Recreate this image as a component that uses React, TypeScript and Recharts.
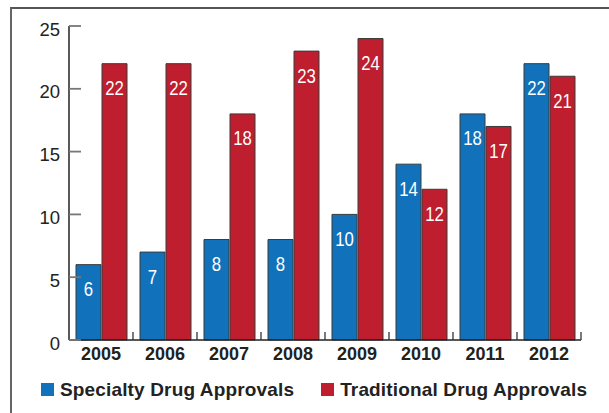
import React from "react";
import { BarChart, Bar, XAxis, YAxis, LabelList, Legend } from "recharts";

const years = ["2005", "2006", "2007", "2008", "2009", "2010", "2011", "2012"];
const specialty = [6, 7, 8, 8, 10, 14, 18, 22];
const traditional = [22, 22, 18, 23, 24, 12, 17, 21];
const yTicks = [0, 5, 10, 15, 20, 25];

const data = years.map((y, i) => ({ year: y, specialty: specialty[i], traditional: traditional[i] }));

const BLUE = "#1172bb";
const RED = "#be1e2d";
const FONT = "'Liberation Sans', Arial, Helvetica, sans-serif";

const YTick = (props: any) => {
  const { x, y, payload } = props;
  return (
    <g>
      <line x1={x + 9} x2={x + 21} y1={y} y2={y} stroke="#777" strokeWidth={1.8} />
      <text x={x} y={y} dy={9.5} textAnchor="end" fontSize={18.5} fill="#222" fontFamily={FONT}>
        {payload.value}
      </text>
    </g>
  );
};

const XTick = (props: any) => {
  const { x, y, payload, width, visibleTicksCount } = props;
  const bandHalf =
    payload && Number(payload.offset) > 0
      ? Number(payload.offset)
      : Number(width) / (Number(visibleTicksCount) || years.length) / 2;
  const axisY = Number(y) - 7;
  const bx = Number(x) + bandHalf;
  return (
    <g>
      <text x={x} y={y} dy={13} textAnchor="middle" fontSize={18} fontWeight="bold" fill="#222" fontFamily={FONT}>
        {payload.value}
      </text>
      <line x1={bx} x2={bx} y1={axisY} y2={axisY - 8} stroke="#333" strokeWidth={1.3} />
    </g>
  );
};

const BarLabel = (props: any) => {
  const { x, y, width, value } = props;
  const cx = Number(x) + Number(width) / 2;
  const by = Number(y) + 31.5;
  return (
    <text
      transform={`translate(${cx},${by}) scale(0.86,1)`}
      textAnchor="middle"
      fontSize={19.5}
      fill="#fff"
      fontFamily={FONT}
    >
      {value}
    </text>
  );
};

const LegendContent = (props: any) => {
  const payload = props.payload || [];
  return (
    <div style={{ display: "flex", alignItems: "center", fontFamily: FONT }}>
      {payload.map((p: any, i: number) => (
        <div key={i} style={{ display: "flex", alignItems: "center", marginLeft: i === 0 ? 41 : 27 }}>
          <div style={{ width: 13, height: 13, background: p.color, marginRight: 6 }} />
          <span
            style={{ fontSize: 19, fontWeight: "bold", color: "#222", lineHeight: "19px", letterSpacing: 0.15 }}
          >
            {p.value}
          </span>
        </div>
      ))}
    </div>
  );
};

export default function App() {
  return (
    <div style={{ position: "absolute", left: 0, top: 0, width: 609, height: 413, overflow: "hidden", background: "#fff" }}>
      <div
        style={{
          position: "absolute",
          left: 10,
          top: 7,
          width: 700,
          height: 500,
          borderLeft: "2px solid #666",
          borderTop: "2px solid #555",
        }}
      />
      <BarChart
        width={609}
        height={413}
        data={data}
        margin={{ top: 26, right: 28, left: 0, bottom: 43 }}
        barCategoryGap={7}
        barGap={1}
      >
        <YAxis
          domain={[0, 25]}
          ticks={yTicks}
          width={69}
          tickSize={0}
          tickMargin={9}
          tickLine={false}
          axisLine={{ stroke: "#222", strokeWidth: 1.5 }}
          tick={<YTick />}
          interval={0}
        />
        <XAxis
          dataKey="year"
          height={30}
          tickSize={0}
          tickMargin={7}
          tickLine={false}
          axisLine={{ stroke: "#222", strokeWidth: 1.5 }}
          tick={<XTick />}
          interval={0}
        />
        <Legend
          layout="horizontal"
          verticalAlign="middle"
          align="center"
          wrapperStyle={{ top: 380, left: 0, width: 609 }}
          content={<LegendContent />}
        />
        <Bar
          dataKey="specialty"
          name="Specialty Drug Approvals"
          fill={BLUE}
          stroke="#3a3a3a"
          strokeWidth={1}
          isAnimationActive={false}
        >
          <LabelList dataKey="specialty" content={<BarLabel />} />
        </Bar>
        <Bar
          dataKey="traditional"
          name="Traditional Drug Approvals"
          fill={RED}
          stroke="#3a3a3a"
          strokeWidth={1}
          isAnimationActive={false}
        >
          <LabelList dataKey="traditional" content={<BarLabel />} />
        </Bar>
      </BarChart>
    </div>
  );
}
